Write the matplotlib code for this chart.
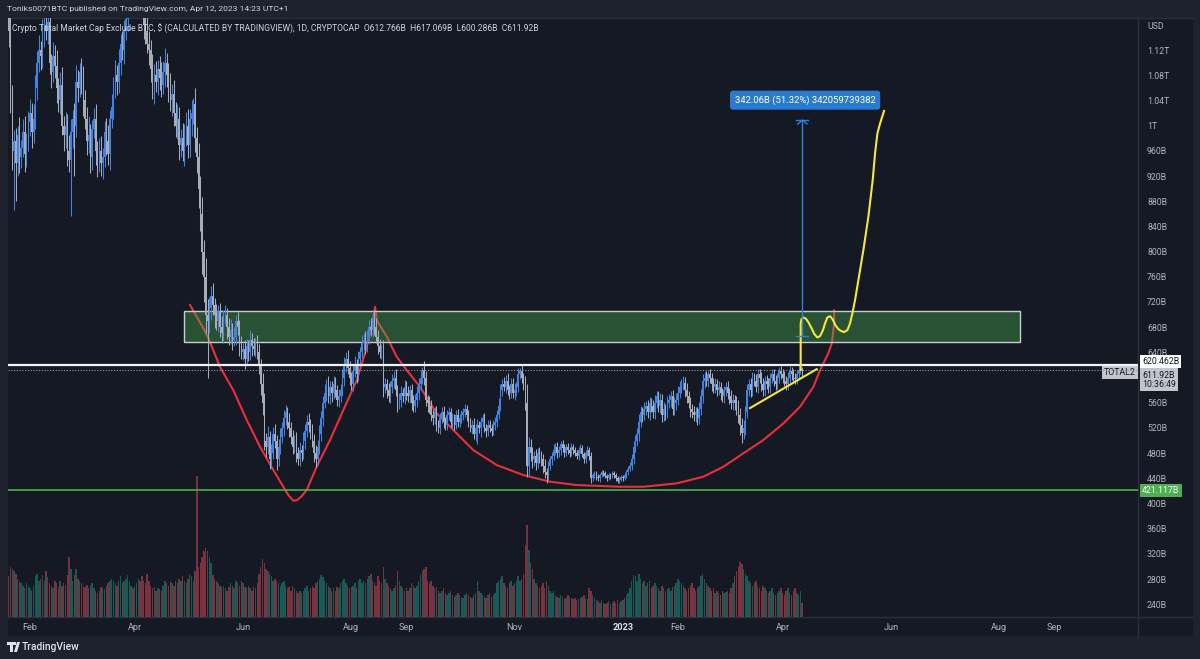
import numpy as np
import pandas as pd
import matplotlib
matplotlib.use("Agg")
import matplotlib.pyplot as plt
from matplotlib.patches import Rectangle, Polygon
from matplotlib.lines import Line2D

# ---------------- DATA ----------------
START = "2022-01-20"          # first daily candle
REF = "2022-02-01"            # day 0 of the numeric time axis
first_open = 1175.0

closes = [
    1150, 1040, 960, 975, 940, 985, 950, 965, 990, 955, 975, 1005,
    1020, 990, 1010, 1060, 1100, 1120, 1110, 1150, 1160, 1150, 1165, 1100,
    1085, 1110, 1095, 1060, 1040, 1065, 1000, 985, 1000, 960, 945, 990,
    1010, 1000, 1070, 1060, 1085, 1070, 1040, 1010, 975, 985, 950, 995,
    1010, 960, 945, 960, 940, 950, 990, 975, 955, 1010, 1030, 1060,
    1080, 1070, 1100, 1130, 1120, 1150, 1170, 1190, 1210, 1220, 1200, 1215,
    1230, 1240, 1220, 1190, 1160, 1150, 1130, 1120, 1090, 1060, 1080, 1070,
    1090, 1075, 1065, 1085, 1100, 1080, 1060, 1040, 1050, 1020, 1000, 1010,
    970, 980, 960, 985, 1000, 970, 1010, 1020, 1035, 980, 950, 900,
    860, 800, 760, 700, 690, 710, 730, 715, 700, 690, 705, 680,
    670, 695, 700, 680, 665, 675, 660, 665, 690, 680, 650, 640,
    645, 630, 650, 640, 660, 650, 645, 655, 640, 620, 590, 560,
    500, 490, 505, 470, 480, 510, 500, 470, 490, 505, 520, 535,
    545, 530, 520, 505, 490, 500, 480, 470, 485, 480, 500, 515,
    530, 525, 515, 500, 480, 470, 490, 510, 535, 560, 575, 590,
    570, 585, 575, 590, 580, 565, 570, 580, 600, 620, 630, 615,
    600, 590, 610, 620, 605, 630, 640, 655, 660, 650, 665, 680,
    675, 695, 680, 665, 650, 640, 645, 585, 590, 580, 570, 585,
    595, 600, 580, 560, 565, 575, 570, 585, 575, 570, 580, 560,
    555, 565, 575, 590, 600, 612, 600, 565, 560, 555, 540, 535,
    545, 525, 520, 535, 545, 530, 525, 540, 545, 530, 535, 525,
    540, 530, 535, 540, 545, 550, 540, 530, 520, 525, 510, 520,
    525, 520, 530, 535, 520, 515, 525, 520, 515, 525, 530, 540,
    555, 580, 590, 585, 595, 580, 575, 590, 575, 580, 585, 605,
    610, 600, 590, 560, 460, 490, 480, 470, 475, 465, 480, 475,
    470, 460, 450, 445, 460, 470, 475, 485, 490, 480, 485, 495,
    488, 480, 490, 485, 480, 490, 485, 480, 475, 485, 488, 478,
    470, 480, 485, 475, 440, 445, 448, 442, 440, 446, 450, 448,
    444, 440, 445, 443, 448, 445, 440, 436, 438, 442, 440, 445,
    450, 455, 460, 470, 490, 500, 510, 530, 545, 540, 550, 555,
    545, 560, 555, 545, 560, 570, 555, 565, 540, 550, 545, 560,
    565, 570, 550, 560, 565, 575, 585, 590, 592, 580, 570, 560,
    550, 545, 540, 545, 535, 550, 570, 595, 600, 595, 605, 600,
    590, 585, 590, 580, 585, 575, 570, 580, 585, 575, 570, 560,
    565, 560, 555, 540, 525, 512, 520, 545, 580, 590, 580, 600,
    595, 585, 605, 600, 590, 580, 595, 590, 585, 600, 605, 595,
    590, 600, 610, 605, 600, 595, 590, 600, 610, 605, 600, 598,
    605, 612, 612.766, 611.92,
]

# wick lengths above the body / below the body (B)
upper_wicks = [
    20, 30, 25, 18, 22, 15, 28, 12, 20, 25, 14, 18, 22, 16, 25, 20,
    18, 24, 15, 20, 12, 26, 15, 30, 14, 22, 18, 25, 16, 20, 28, 15,
    22, 18, 25, 20, 15, 26, 26, 18, 14, 22, 25, 16, 20, 30, 18, 14,
    18, 25, 16, 20, 24, 14, 18, 22, 26, 15, 20, 18, 24, 16, 22, 15,
    20, 18, 25, 15, 22, 18, 26, 14, 20, 22, 16, 25, 18, 14, 22, 20,
    16, 24, 18, 22, 15, 20, 26, 18, 23, 15, 20, 24, 16, 22, 18, 25,
    20, 15, 24, 18, 22, 26, 16, 20, 9, 25, 18, 22, 20, 26, 18, 30,
    25, 18, 15, 20, 12, 16, 10, 14, 18, 12, 15, 10, 14, 18, 12, 16,
    10, 14, 12, 16, 10, 14, 12, 9, 15, 11, 13, 8, 12, 14, 10, 18,
    15, 12, 18, 10, 14, 12, 16, 9, 12, 15, 10, 14, 12, 8, 13, 10,
    12, 9, 14, 10, 12, 8, 13, 11, 10, 14, 9, 12, 10, 13, 11, 14,
    12, 10, 14, 8, 12, 10, 9, 13, 11, 8, 12, 10, 14, 12, 10, 13,
    11, 9, 12, 14, 10, 12, 9, 13, 11, 14, 10, 12, 15, 10, 12, 14,
    10, 12, 9, 14, 10, 8, 12, 9, 11, 10, 13, 8, 10, 12, 9, 11,
    9, 11, 8, 10, 12, 9, 11, 10, 12, 5, 14, 10, 8, 11, 9, 10,
    8, 10, 7, 9, 8, 10, 7, 9, 8, 6, 9, 7, 8, 10, 7, 8,
    6, 8, 7, 9, 6, 8, 10, 7, 9, 6, 8, 7, 9, 6, 8, 7,
    6, 8, 7, 9, 12, 10, 8, 11, 9, 12, 8, 10, 9, 11, 8, 10,
    5, 10, 8, 12, 30, 15, 12, 10, 9, 12, 8, 10, 9, 8, 10, 7,
    8, 6, 7, 9, 6, 8, 7, 5, 6, 7, 5, 6, 4, 6, 5, 4,
    5, 4, 6, 5, 4, 5, 6, 4, 6, 4, 3, 4, 5, 3, 4, 3,
    4, 3, 4, 3, 4, 3, 4, 3, 4, 3, 4, 5, 4, 5, 6, 8,
    9, 8, 10, 12, 10, 9, 11, 8, 10, 9, 8, 10, 12, 9, 8, 10,
    9, 11, 8, 10, 9, 8, 11, 9, 10, 12, 9, 8, 10, 9, 11, 8,
    9, 8, 10, 8, 9, 11, 12, 10, 9, 11, 5, 9, 8, 10, 9, 8,
    10, 8, 9, 7, 8, 9, 8, 10, 9, 8, 10, 9, 11, 10, 12, 10,
    9, 8, 10, 9, 8, 10, 9, 8, 9, 10, 8, 9, 10, 8, 9, 8,
    9, 8, 7, 9, 8, 10, 8, 9, 8, 7, 9, 8, 7, 8, 6, 5,
]
lower_wicks = [
    25, 20, 30, 100, 60, 20, 25, 18, 15, 28, 20, 16, 22, 25, 18, 15,
    20, 15, 22, 18, 25, 14, 20, 18, 26, 15, 20, 24, 18, 22, 15, 25,
    20, 24, 18, 22, 26, 80, 18, 22, 15, 20, 24, 16, 22, 18, 25, 20,
    15, 22, 26, 18, 20, 24, 16, 22, 18, 25, 14, 20, 16, 22, 18, 20,
    16, 22, 14, 20, 18, 24, 15, 22, 18, 20, 25, 16, 22, 20, 15, 24,
    20, 18, 25, 16, 22, 18, 20, 15, 24, 18, 22, 16, 25, 20, 18, 22,
    25, 20, 16, 24, 18, 22, 20, 26, 18, 22, 25, 30, 28, 35, 40, 30,
    40, 20, 18, 15, 22, 14, 18, 16, 12, 15, 10, 18, 14, 12, 16, 10,
    14, 12, 15, 10, 12, 16, 10, 14, 12, 15, 9, 13, 11, 15, 18, 20,
    20, 16, 12, 18, 14, 10, 12, 16, 10, 12, 9, 13, 10, 12, 14, 10,
    12, 10, 14, 9, 11, 12, 10, 13, 9, 11, 12, 10, 14, 12, 9, 11,
    10, 12, 9, 13, 10, 12, 14, 9, 11, 10, 12, 9, 10, 13, 11, 9,
    12, 10, 11, 9, 13, 10, 12, 9, 11, 13, 10, 12, 9, 11, 13, 10,
    12, 9, 11, 16, 10, 12, 9, 11, 10, 12, 9, 14, 10, 11, 9, 12,
    10, 9, 11, 12, 10, 9, 11, 10, 9, 11, 12, 10, 14, 11, 9, 10,
    9, 10, 8, 9, 7, 10, 8, 9, 7, 8, 10, 8, 7, 9, 8, 7,
    8, 7, 9, 8, 7, 9, 8, 10, 7, 8, 15, 8, 7, 9, 8, 7,
    8, 7, 9, 8, 6, 8, 9, 7, 10, 8, 9, 7, 8, 10, 9, 8,
    8, 9, 10, 12, 20, 15, 12, 14, 10, 12, 9, 11, 10, 12, 9, 10,
    8, 7, 9, 6, 8, 7, 6, 8, 7, 6, 5, 7, 6, 5, 6, 5,
    4, 6, 5, 4, 6, 5, 4, 6, 8, 5, 4, 5, 4, 6, 4, 5,
    4, 5, 3, 4, 3, 4, 5, 3, 4, 3, 4, 3, 4, 5, 4, 6,
    7, 9, 8, 10, 9, 11, 8, 10, 9, 12, 10, 9, 11, 8, 10, 12,
    10, 9, 12, 10, 8, 11, 9, 10, 12, 9, 8, 10, 9, 11, 10, 9,
    12, 10, 9, 11, 10, 8, 9, 10, 12, 9, 10, 8, 11, 9, 10, 9,
    8, 10, 9, 11, 10, 9, 12, 10, 11, 12, 14, 12, 16, 8, 10, 12,
    10, 9, 11, 10, 9, 8, 10, 9, 11, 10, 9, 8, 10, 9, 8, 9,
    10, 8, 9, 7, 9, 8, 10, 9, 8, 9, 7, 8, 9, 8, 7, 4,
]

notable_highs = {0: 1185, 22: 1180, 38: 1096, 48: 1028, 88: 1123, 104: 1044,
                 205: 705, 233: 617, 288: 615, 394: 610, 447: 617.069}
notable_lows = {3: 866, 4: 880, 35: 856, 112: 600, 144: 485, 147: 455,
                264: 495, 292: 442, 303: 432, 328: 432, 413: 496, 447: 600.286}

volumes = [
    34, 42, 40, 38, 36, 32, 30, 28, 26, 24, 28, 26, 24, 22, 26,
    34, 36, 30, 32, 35, 30, 38, 33, 28, 26, 24, 30, 28, 25, 30,
    26, 28, 27, 35, 50, 40, 30, 35, 40, 32, 30, 28, 26, 25, 27,
    24, 26, 28, 24, 22, 20, 22, 25, 24, 23, 26, 28, 30, 32, 30,
    28, 26, 30, 34, 28, 30, 32, 35, 30, 26, 24, 26, 28, 32, 30,
    34, 30, 28, 36, 30, 26, 24, 25, 22, 24, 23, 22, 26, 30, 28,
    26, 30, 28, 26, 30, 28, 32, 30, 34, 30, 28, 32, 36, 34, 30,
    38, 118, 42, 45, 50, 55, 58, 55, 50, 45, 35, 32, 30, 28, 26,
    25, 26, 24, 22, 25, 28, 26, 24, 30, 28, 26, 30, 28, 25, 24,
    26, 24, 22, 25, 24, 28, 36, 42, 48, 45, 40, 38, 36, 34, 30,
    32, 30, 28, 26, 28, 30, 26, 24, 25, 22, 26, 24, 22, 20, 22,
    20, 22, 24, 26, 22, 24, 26, 24, 28, 30, 32, 35, 33, 30, 28,
    26, 24, 22, 24, 22, 25, 24, 28, 30, 32, 28, 26, 24, 25, 26,
    28, 24, 30, 32, 28, 30, 28, 32, 34, 36, 30, 28, 26, 34, 30,
    28, 42, 32, 28, 26, 24, 22, 24, 26, 38, 30, 26, 24, 22, 24,
    22, 24, 28, 26, 24, 26, 30, 35, 38, 40, 42, 30, 28, 30, 26,
    24, 25, 22, 20, 22, 24, 20, 18, 20, 22, 18, 17, 18, 20, 18,
    17, 16, 18, 20, 18, 17, 16, 18, 20, 30, 22, 20, 18, 17, 16,
    18, 20, 17, 18, 20, 28, 30, 32, 34, 28, 26, 24, 28, 30, 26,
    28, 30, 34, 30, 32, 36, 60, 77, 56, 45, 40, 32, 28, 26, 24,
    26, 28, 24, 30, 26, 22, 20, 22, 18, 17, 16, 18, 17, 15, 16,
    18, 17, 16, 15, 16, 14, 15, 16, 17, 18, 16, 15, 24, 22, 18,
    16, 14, 13, 12, 14, 12, 11, 12, 13, 11, 12, 13, 12, 14, 12,
    13, 14, 16, 18, 20, 24, 30, 35, 34, 30, 36, 32, 28, 30, 26,
    28, 30, 24, 26, 28, 26, 24, 22, 26, 24, 22, 23, 24, 22, 25,
    26, 28, 32, 30, 28, 26, 24, 22, 24, 26, 28, 24, 22, 24, 26,
    34, 36, 32, 28, 26, 24, 22, 24, 20, 22, 20, 18, 22, 20, 21,
    22, 20, 24, 28, 34, 38, 42, 46, 44, 40, 36, 34, 30, 28, 26,
    28, 30, 26, 24, 22, 26, 24, 22, 20, 22, 24, 20, 18, 20, 22,
    24, 20, 18, 22, 24, 20, 18, 22, 24, 20, 18, 22, 12,
]

# horizontal levels
resistance_level = 620.462
last_price = 611.92
support_level = 421.117

# zone (days since REF, prices)
zone_days = (86.8, 557.7)
zone_prices = (657.0, 706.0)

# drawn cup curve (days since REF, price)
cup_days = [90.1, 97.6, 100.5, 107.0, 114.5, 122.1, 129.6, 137.1, 142.7, 145.5,
            148.3, 150.6, 153.1, 155.9, 161.5, 169.0, 176.5, 184.1, 188.7, 192.5,
            194.4, 195.3, 201.0, 206.6, 212.2, 219.7, 229.1, 238.5, 249.7, 262.9,
            277.9, 293.0, 308.0, 332.4, 345.5, 364.3, 379.3, 390.6, 401.8, 413.1,
            424.4, 433.8, 441.3, 445.1, 449.7, 451.7, 453.0, 453.0]
cup_prices = [715.5, 678.5, 662.6, 617.1, 580.1, 532.5, 490.1, 453.1, 426.6, 413.5,
              404.4, 405.5, 411.9, 421.4, 458.4, 500.7, 548.4, 596.0, 638.3, 680.6,
              712.3, 691.2, 664.7, 633.0, 611.8, 585.3, 543.1, 516.6, 484.9, 461.1,
              445.2, 434.6, 429.3, 426.6, 426.6, 432.0, 442.5, 458.4, 479.6, 500.7,
              527.2, 553.6, 585.3, 611.8, 638.3, 654.2, 686.0, 707.1]

# drawn projection path
proj_days = [434.17, 434.17, 434.55, 435.68, 437.18, 438.68, 440.37, 441.88, 443.57,
             445.07, 446.57, 447.89, 449.2, 450.7, 452.21, 453.71, 455.21, 456.71,
             458.59, 460.47, 461.97, 463.29, 464.79, 466.67, 469.48, 472.3, 474.74,
             476.06, 477.37, 478.87, 481.13]
proj_prices = [612.0, 685.9, 692.3, 695.4, 693.3, 687.0, 678.0, 669.0, 663.7,
               665.8, 674.3, 685.9, 695.4, 697.5, 692.3, 683.3, 677.4, 674.3,
               672.1, 675.3, 685.9, 701.8, 722.9, 754.7, 802.3, 855.2, 913.4,
               955.7, 987.4, 1003.3, 1023.4]

# drawn rising trendline
trend_days = [405.6, 443.2]
trend_prices = [551.5, 613.4]

# measurement
measure_day = 435.1
measure_from, measure_to = 666.55, 1008.61
measure_text = "342.06B (51.32%) 342059739382"

# axes
price_ticks = [240, 280, 320, 360, 400, 440, 480, 520, 560, 600, 640, 680, 720,
               760, 800, 840, 880, 920, 960, 1000, 1040, 1080, 1120]
price_tick_labels = ["240B", "280B", "320B", "360B", "400B", "440B", "480B", "520B",
                     "560B", "", "640B", "680B", "720B", "760B", "800B", "840B",
                     "880B", "920B", "960B", "1T", "1.04T", "1.08T", "1.12T"]
month_dates = ["2022-02-01", "2022-04-01", "2022-06-01", "2022-08-01", "2022-09-01",
               "2022-11-01", "2023-01-01", "2023-02-01", "2023-04-01", "2023-06-01",
               "2023-08-01", "2023-09-01"]
month_labels = ["Feb", "Apr", "Jun", "Aug", "Sep", "Nov", "2023", "Feb", "Apr",
                "Jun", "Aug", "Sep"]
x_range = (-12.4, 624.2)
y_range = (219.8, 1170.9)

header_text = "Toniks0071BTC published on TradingView.com, Apr 12, 2023 14:23 UTC+1"
legend_text = ("Crypto Total Market Cap Exclude BTC, $ (CALCULATED BY TRADINGVIEW), 1D, "
               "CRYPTOCAP  O612.766B  H617.069B  L600.286B  C611.92B")

# ---------------- STYLE ----------------
OUTER = "#1e222d"
PANEL = "#151924"
SEP = "#2a2e39"
TXT = "#d1d4dc"
AXTXT = "#b2b5be"
UP = "#4283e0"
DOWN = "#a9acb5"
FONT = ["Roboto", "DejaVu Sans"]
plt.rcParams["font.family"] = FONT

W, H = 1200, 659
def fx(px): return px / W
def fy(py): return 1 - py / H

fig = plt.figure(figsize=(12, 6.59), dpi=100, facecolor=OUTER)
fig.patches.append(Rectangle((fx(8), fy(636)), fx(1193) - fx(8), fy(18) - fy(636),
                             transform=fig.transFigure, facecolor=PANEL,
                             edgecolor="none", zorder=-10))
for xs, ys in [([fx(1138), fx(1138)], [fy(18), fy(636)]),
               ([fx(8), fx(1193)], [fy(617), fy(617)]),
               ([fx(8), fx(1193)], [fy(18), fy(18)])]:
    fig.add_artist(Line2D(xs, ys, transform=fig.transFigure, color=SEP, lw=1, zorder=-5))

pos = [fx(8), fy(617), fx(1138) - fx(8), fy(18) - fy(617)]
ax_vol = fig.add_axes(pos, zorder=1)
ax = fig.add_axes(pos, sharex=ax_vol, zorder=2)
for a in (ax_vol, ax):
    a.patch.set_visible(False)
    for s in a.spines.values():
        s.set_visible(False)

ref = pd.Timestamp(REF)
dates = pd.date_range(START, periods=len(closes), freq="D")
xd = np.array((dates - ref).days, dtype=float)
c = np.array(closes, dtype=float)
o = np.concatenate([[first_open], c[:-1]])
hi = np.maximum(o, c) + np.array(upper_wicks, dtype=float)
lo = np.minimum(o, c) - np.array(lower_wicks, dtype=float)
for k, v in notable_highs.items():
    hi[k] = v
for k, v in notable_lows.items():
    lo[k] = v
up = c >= o
cols = np.where(up, UP, DOWN)

# volume
vcols = np.where(up, "#22ab94", "#f7525f")
ax_vol.bar(xd, volumes, width=0.8, color=vcols, alpha=0.45, linewidth=0)
ax_vol.set_ylim(0, 500)
ax_vol.tick_params(left=False, bottom=False, labelleft=False, labelbottom=False)

# cup curve (under zone)
ax.plot(cup_days, cup_prices, color="#e8303c", lw=1.5, zorder=1,
        solid_capstyle="round", solid_joinstyle="round")
# zone
ax.add_patch(Rectangle((zone_days[0], zone_prices[0]), zone_days[1] - zone_days[0],
                       zone_prices[1] - zone_prices[0], facecolor="#4caf50", alpha=0.38,
                       edgecolor="none", zorder=2))
ax.add_patch(Rectangle((zone_days[0], zone_prices[0]), zone_days[1] - zone_days[0],
                       zone_prices[1] - zone_prices[0], facecolor="none",
                       edgecolor="#c9cdd3", lw=1.0, zorder=2.1))

# candles
ax.vlines(xd, lo, hi, colors=cols, lw=0.75, zorder=4)
body_h = np.maximum(np.abs(c - o), 1.2)
ax.bar(xd, body_h, bottom=np.minimum(o, c), width=0.8, color=cols, linewidth=0, zorder=4)

# levels
ax.axhline(resistance_level, color="#f0f3fa", lw=1.6, zorder=5)
ax.axhline(last_price, color="#9598a1", lw=0.8, ls=(0, (1, 1.5)), zorder=5)
ax.axhline(support_level, color="#4caf50", lw=1.2, zorder=5)

# trend + projection
ax.plot(trend_days, trend_prices, color="#f5e642", lw=1.5, zorder=6)
ax.plot(proj_days, proj_prices, color="#f5e642", lw=1.5, zorder=6,
        solid_joinstyle="round")

# measurement
mc = "#2f7fd6"
ax.plot([measure_day, measure_day], [measure_from, measure_to], color=mc, lw=1.0, zorder=6)
ax.plot([measure_day - 3.4, measure_day + 3.4], [measure_from, measure_from], color=mc, lw=1.0, zorder=6)
ax.plot([measure_day - 3.4, measure_day + 3.4], [measure_to, measure_to], color=mc, lw=1.0, zorder=6)
ax.plot([measure_day - 2.6, measure_day, measure_day + 2.6],
        [measure_to - 6, measure_to, measure_to - 6], color=mc, lw=1.0, zorder=6)
ax.annotate(measure_text, xy=(measure_day, measure_to), xytext=(2, 11),
            textcoords="offset points", ha="center", va="bottom", fontsize=6.8,
            color="white", zorder=7,
            bbox=dict(boxstyle="round,pad=0.5,rounding_size=0.3", fc="#2a7ad2", ec="none"))

ax.set_xlim(*x_range)
ax.set_ylim(*y_range)

# y axis on right
ax.yaxis.tick_right()
ax.set_yticks(price_ticks)
ax.set_yticklabels(price_tick_labels)
ax.tick_params(axis="y", length=0, pad=6.5, labelsize=6.3, labelcolor=AXTXT)
ax.text(1.008, 0.985, "USD", transform=ax.transAxes, fontsize=6.3, color=AXTXT,
        ha="left", va="center")
# the 640B tick label sits just above the level labels
for t in ax.get_yticklabels():
    if t.get_text() == "640B":
        t.set_y(645)

# x axis
mpos = [(pd.Timestamp(d) - ref).days for d in month_dates]
ax.set_xticks(mpos)
ax.set_xticklabels(month_labels)
ax.tick_params(axis="x", length=0, pad=4.0, labelsize=6.6, labelcolor=AXTXT)
for t in ax.get_xticklabels():
    if t.get_text() == "2023":
        t.set_fontweight("bold")
        t.set_color("#e0e3eb")

# price-axis labels
ytr = ax.get_yaxis_transform()
ax.annotate(f"{resistance_level:.3f}B", xy=(1, resistance_level), xycoords=ytr,
            xytext=(3, 2.2), textcoords="offset points", ha="left", va="center",
            fontsize=6.3, color="#131722", annotation_clip=False,
            bbox=dict(boxstyle="square,pad=0.2", fc="#ffffff", ec="none"))
ax.annotate(f"{last_price:.2f}B\n10:36:49", xy=(1, last_price), xycoords=ytr,
            xytext=(3, -7.0), textcoords="offset points", ha="left", va="center",
            fontsize=6.3, color="#131722", annotation_clip=False, linespacing=1.05,
            bbox=dict(boxstyle="square,pad=0.25", fc="#c3c5cc", ec="none"))
ax.annotate("TOTAL2", xy=(1, last_price), xycoords=ytr,
            xytext=(-1.5, -1.5), textcoords="offset points", ha="right", va="center",
            fontsize=6.3, color="#131722", annotation_clip=False,
            bbox=dict(boxstyle="square,pad=0.25", fc="#c3c5cc", ec="none"))
ax.annotate(f"{support_level:.3f}B", xy=(1, support_level), xycoords=ytr,
            xytext=(3, 0), textcoords="offset points", ha="left", va="center",
            fontsize=6.3, color="white", annotation_clip=False,
            bbox=dict(boxstyle="square,pad=0.25", fc="#4caf50", ec="none"))

# legend / header texts
ax.text(0.0035, 0.982, legend_text, transform=ax.transAxes, fontsize=6.15, color=TXT,
        ha="left", va="center", zorder=8)
fig.text(fx(7), fy(9), header_text, fontsize=6.1, color=TXT, ha="left", va="center")

# footer logo + wordmark
logo_pts = [
    [(7, 642), (16, 642), (16, 645), (13, 645), (13, 652), (10, 652), (10, 645), (7, 645)],
    [(17, 642), (20, 642), (17, 652), (14, 652)],
]
for pts in logo_pts:
    fig.patches.append(Polygon([(fx(px), fy(py)) for px, py in pts], closed=True,
                               transform=fig.transFigure, facecolor="#e0e3eb",
                               edgecolor="none"))
fig.text(fx(22), fy(647), "TradingView", fontsize=7.4, color="#e0e3eb",
         ha="left", va="center", fontweight="medium")

fig.savefig("out.png", dpi=100, facecolor=OUTER)
